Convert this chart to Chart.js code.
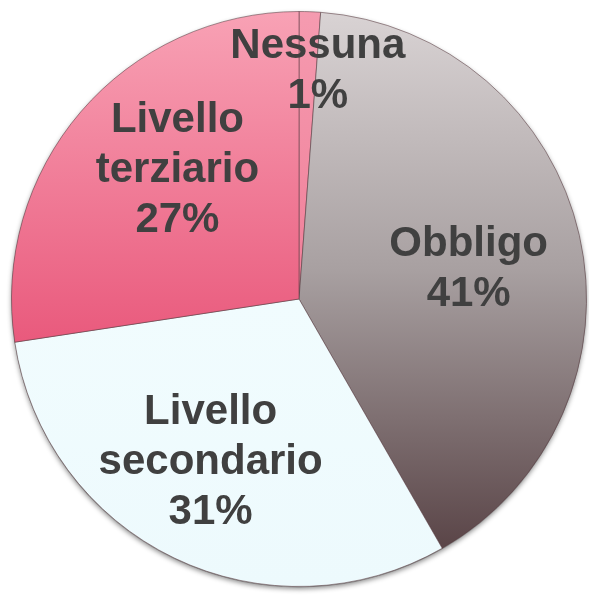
<!DOCTYPE html>
<html>
<head>
<meta charset="utf-8">
<script src="https://cdn.jsdelivr.net/npm/chart.js@4/dist/chart.umd.min.js"></script>
<style>
html,body{margin:0;padding:0;background:#fff;}
#wrap{width:589px;height:595px;position:relative;}
</style>
</head>
<body>
<div id="wrap"><canvas id="c" width="589" height="595"></canvas></div>
<script>
// Data
const categories = ["Nessuna", "Obbligo", "Livello secondario", "Livello terziario"];
const labelLines = [["Nessuna"], ["Obbligo"], ["Livello", "secondario"], ["Livello", "terziario"]];
const values = [1.2, 40.5, 30.9, 27.4];

// Styling (gradient stops, top -> bottom of the pie)
const gradientStops = [
  [[0, "#f59bb0"], [0.5, "#f07e98"], [1, "#e85a7c"]],
  [[0, "#d9d3d4"], [0.45, "#a8a0a1"], [1, "#4f383b"]],
  [[0, "#f5feff"], [1, "#edfafd"]],
  [[0, "#f8a2b5"], [0.58, "#e9597c"], [1, "#e24a70"]]
];
// label placement: angle (deg clockwise from top) and radius fraction
const labelAngle = [4.7, 79.6, 208.7, 317];
const labelRadius = [0.80, 0.60, 0.64, 0.62];

function makeGradient(ctx, chart, i) {
  const area = chart.chartArea;
  if (!area) return gradientStops[i][0][1];
  const g = ctx.createLinearGradient(0, area.top, 0, area.bottom);
  gradientStops[i].forEach(s => g.addColorStop(s[0], s[1]));
  return g;
}

const shadowPlugin = {
  id: 'pieShadow',
  beforeDatasetsDraw(chart) {
    const meta = chart.getDatasetMeta(0);
    if (!meta.data.length) return;
    const a = meta.data[0];
    const ctx = chart.ctx;
    ctx.save();
    ctx.beginPath();
    ctx.arc(a.x, a.y + 1, a.outerRadius, 0, Math.PI * 2);
    ctx.shadowColor = "rgba(0,0,0,0.45)";
    ctx.shadowBlur = 5;
    ctx.shadowOffsetY = 1.5;
    ctx.fillStyle = "#888";
    ctx.fill();
    ctx.restore();
  }
};

const labelPlugin = {
  id: 'sliceLabels',
  afterDatasetsDraw(chart) {
    const meta = chart.getDatasetMeta(0);
    const ctx = chart.ctx;
    ctx.save();
    ctx.font = "bold 42px 'Liberation Sans', Arial, sans-serif";
    ctx.fillStyle = "#404040";
    ctx.textAlign = "center";
    ctx.textBaseline = "middle";
    const lineH = 50;
    meta.data.forEach((arc, i) => {
      const th = labelAngle[i] * Math.PI / 180;
      const r = arc.outerRadius * labelRadius[i];
      const cx = arc.x + r * Math.sin(th);
      const cy = arc.y - r * Math.cos(th) + 2;
      const lines = labelLines[i].concat([Math.round(values[i]) + "%"]);
      const start = cy - (lines.length - 1) * lineH / 2;
      lines.forEach((t, k) => ctx.fillText(t, cx, start + k * lineH));
    });
    ctx.restore();
  }
};

new Chart(document.getElementById('c'), {
  type: 'pie',
  data: {
    labels: categories,
    datasets: [{
      data: values,
      backgroundColor: (c) => makeGradient(c.chart.ctx, c.chart, c.dataIndex),
      borderColor: "rgba(90,60,65,0.55)",
      borderWidth: 1
    }]
  },
  options: {
    responsive: false,
    animation: false,
    layout: { padding: { left: 11, right: 2, top: 11, bottom: 8 } },
    plugins: { legend: { display: false }, tooltip: { enabled: false } }
  },
  plugins: [shadowPlugin, labelPlugin]
});
</script>
</body>
</html>
